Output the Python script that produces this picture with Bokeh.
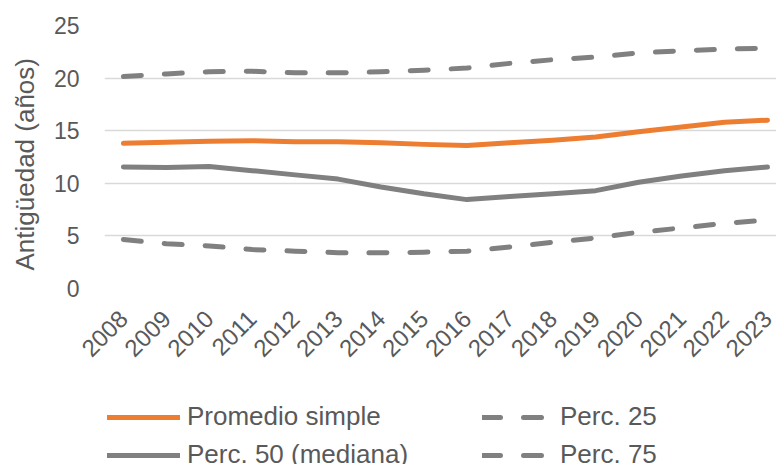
from math import pi

from bokeh.embed import file_html
from bokeh.layouts import column
from bokeh.models import FixedTicker, Legend, LegendItem, Range1d, Title
from bokeh.plotting import figure
from bokeh.resources import INLINE

# Seniority (years) by year: simple mean, median and quartiles
years = [2008, 2009, 2010, 2011, 2012, 2013, 2014, 2015,
         2016, 2017, 2018, 2019, 2020, 2021, 2022, 2023]
promedio = [13.8, 13.9, 14.0, 14.05, 13.95, 13.95, 13.85, 13.7,
            13.6, 13.85, 14.1, 14.4, 14.9, 15.35, 15.8, 16.0]
perc50 = [11.55, 11.5, 11.6, 11.2, 10.8, 10.4, 9.65, 9.0,
          8.45, 8.75, 9.0, 9.3, 10.1, 10.7, 11.2, 11.55]
perc25 = [4.65, 4.25, 4.05, 3.7, 3.55, 3.4, 3.4, 3.45,
          3.55, 3.95, 4.4, 4.8, 5.35, 5.75, 6.2, 6.5]
perc75 = [20.15, 20.4, 20.6, 20.65, 20.5, 20.5, 20.6, 20.75,
          20.95, 21.4, 21.75, 22.0, 22.4, 22.6, 22.75, 22.85]
y_ticks = [0, 5, 10, 15, 20, 25]
series_labels = ["Promedio simple", "Perc. 50 (mediana)", "Perc. 25", "Perc. 75"]

FONT = "Liberation Sans"
TEXT = "#595959"
ORANGE = "#ED7D31"
GRAY = "#808080"
SOLID = dict(line_width=5, line_cap="round", line_join="round")
DASHED = dict(line_width=5, line_cap="round", line_join="round", line_dash="18 23")

# ---- main chart ----
p = figure(width=776, height=392, output_backend="svg", toolbar_location=None,
           x_range=Range1d(2007.56, 2023.21), y_range=Range1d(0, 25),
           min_border_left=104, min_border_right=0, min_border_top=25,
           min_border_bottom=104)
p.outline_line_color = None
p.border_fill_color = "white"

p.xaxis.ticker = FixedTicker(ticks=years)
p.xaxis.major_label_orientation = pi / 4
p.yaxis.ticker = FixedTicker(ticks=y_ticks)
for ax in (p.xaxis, p.yaxis):
    ax.axis_line_color = None
    ax.major_tick_line_color = None
    ax.minor_tick_line_color = None
    ax.major_label_text_font = FONT
    ax.major_label_text_color = TEXT
p.xaxis.major_label_text_font_size = "24px"
p.yaxis.major_label_text_font_size = "23px"
p.xaxis.major_label_standoff = 20
p.yaxis.major_label_standoff = 19

# y-axis title, starting a little above the frame bottom
p.add_layout(Title(text="Antigüedad (años)", align="left", offset=18,
                   vertical_align="top",
                   text_font=FONT, text_font_size="26px", text_font_style="normal",
                   text_color=TEXT, standoff=18), "left")

p.xgrid.grid_line_color = None
p.ygrid.grid_line_color = "#D9D9D9"
p.ygrid.grid_line_width = 1.3

p.line(years, promedio, line_color=ORANGE, **SOLID)
p.line(years, perc50, line_color=GRAY, **SOLID)
p.line(years, perc25, line_color=GRAY, **DASHED)
p.line(years, perc75, line_color=GRAY, **DASHED)

# ---- legend strip (two columns); its ranges keep the series out of view ----
lg = figure(width=776, height=72, output_backend="svg", toolbar_location=None,
            x_range=Range1d(0, 1), y_range=Range1d(0, 1),
            x_axis_type=None, y_axis_type=None, min_border=0)
lg.outline_line_color = None
lg.grid.visible = False
k_prom = lg.line(years, promedio, line_color=ORANGE, **SOLID)
k_p50 = lg.line(years, perc50, line_color=GRAY, **SOLID)
k_p25 = lg.line(years, perc25, line_color=GRAY, **DASHED)
k_p75 = lg.line(years, perc75, line_color=GRAY, **DASHED)


def make_legend(items, loc, glyph_width, standoff):
    leg = Legend(items=items, orientation="vertical", location=loc)
    leg.label_text_font = FONT
    leg.label_text_font_size = "26px"
    leg.label_text_color = TEXT
    leg.glyph_width = glyph_width
    leg.label_standoff = standoff
    leg.spacing = 7
    leg.padding = 0
    leg.margin = 0
    leg.border_line_color = None
    leg.background_fill_alpha = 0
    return leg


lg.add_layout(make_legend([
    LegendItem(label=series_labels[0], renderers=[k_prom]),
    LegendItem(label=series_labels[1], renderers=[k_p50]),
], (3, -6), 73, 7), "center")
lg.add_layout(make_legend([
    LegendItem(label=series_labels[2], renderers=[k_p25]),
    LegendItem(label=series_labels[3], renderers=[k_p75]),
], (378, -6), 65, 13), "center")

open("out.html", "w").write(file_html(column(p, lg, spacing=0), INLINE))
